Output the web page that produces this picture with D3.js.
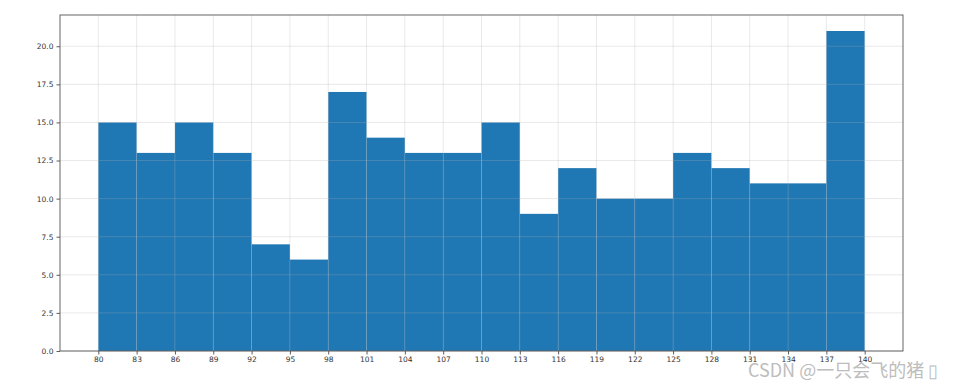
<!DOCTYPE html>
<html><head><meta charset="utf-8">
<script src="https://cdn.jsdelivr.net/npm/d3@7"></script>
<style>body{margin:0;background:#fff}svg{display:block}</style>
</head><body>
<svg id="c" width="957" height="386"></svg>
<script>
const binEdges = [80,83,86,89,92,95,98,101,104,107,110,113,116,119,122,125,128,131,134,137,140];
const counts = [15,13,15,13,7,6,17,14,13,13,15,9,12,10,10,13,12,11,11,21];
const yTicks = [0,2.5,5,7.5,10,12.5,15,17.5,20];
const watermark = "CSDN @一只会飞的猪 ▯";

const svg = d3.select("#c");
const L=60, R=903, T=15, B=351;
const x = d3.scaleLinear().domain([77,143]).range([L,R]);
const y = d3.scaleLinear().domain([0,22.05]).range([B,T]);

const bins = counts.map((c,i)=>({x0:binEdges[i], x1:binEdges[i+1], c}));
svg.append("g").selectAll("rect").data(bins).join("rect")
  .attr("x", d=>x(d.x0)).attr("width", d=>x(d.x1)-x(d.x0))
  .attr("y", d=>y(d.c)).attr("height", d=>y(0)-y(d.c))
  .attr("fill", "#1f77b4");

// grid
const g = svg.append("g").attr("stroke","#b0b0b0").attr("stroke-opacity",0.35).attr("stroke-width",0.8);
g.selectAll("line.v").data(binEdges).join("line")
  .attr("x1",d=>x(d)).attr("x2",d=>x(d)).attr("y1",T).attr("y2",B);
g.selectAll("line.h").data(yTicks).join("line")
  .attr("y1",d=>y(d)).attr("y2",d=>y(d)).attr("x1",L).attr("x2",R);

// axes
const xa = svg.append("g").attr("transform",`translate(0,${B})`)
  .call(d3.axisBottom(x).tickValues(binEdges).tickFormat(d3.format("d")).tickSize(3.5).tickPadding(2.5));
const ya = svg.append("g").attr("transform",`translate(${L},0)`)
  .call(d3.axisLeft(y).tickValues(yTicks).tickFormat(d3.format(".1f")).tickSize(3.5).tickPadding(3));
[xa,ya].forEach(a=>{
  a.select(".domain").remove();
  a.selectAll("text").attr("font-family","DejaVu Sans").attr("font-size","7.5px").attr("fill","#333");
  a.selectAll("line").attr("stroke","#333").attr("stroke-width",0.8);
});

svg.append("rect").attr("x",L).attr("y",T).attr("width",R-L).attr("height",B-T)
  .attr("fill","none").attr("stroke","#555").attr("stroke-width",0.9);

svg.append("text").attr("x",748).attr("y",377).attr("text-anchor","start")
  .attr("font-family","Noto Sans CJK SC, Noto Sans").attr("font-size","18px")
  .attr("fill","#bdbdbd").text(watermark);
</script>
</body></html>
